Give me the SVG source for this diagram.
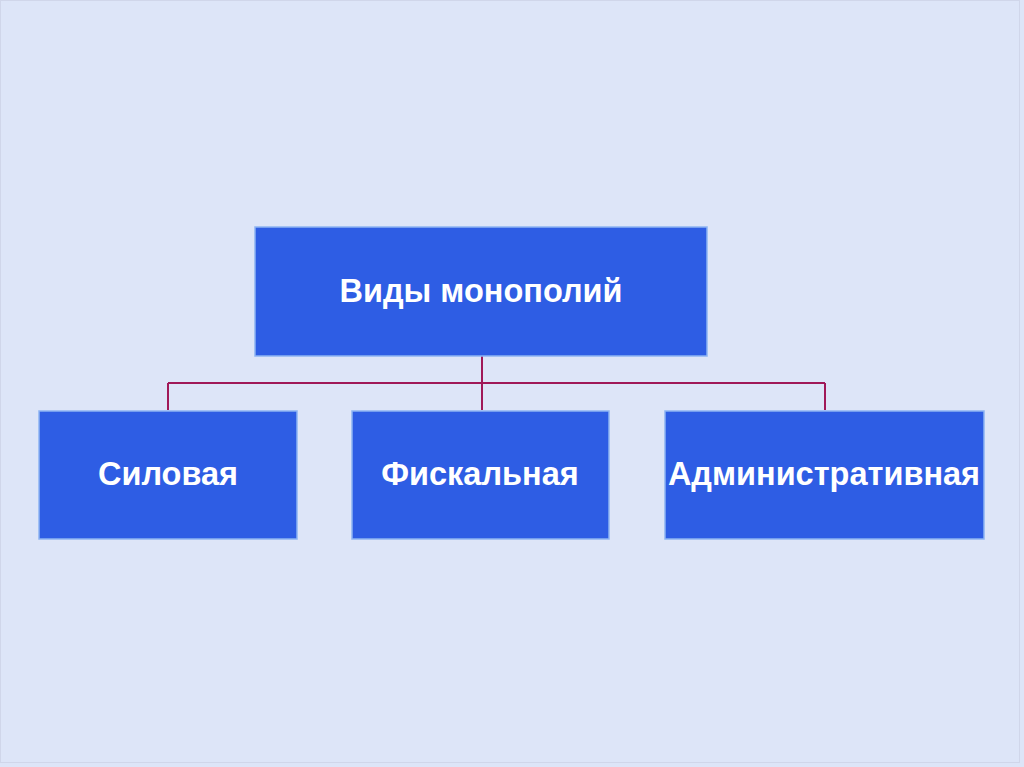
<svg xmlns="http://www.w3.org/2000/svg" width="1024" height="767" viewBox="0 0 1024 767">
<style>
.box{fill:#2e5de4;stroke:#8db4f2;stroke-width:1.5}
.lbl{font-family:"Liberation Sans",Arial,sans-serif;font-weight:bold;font-size:32.5px;fill:#ffffff;text-anchor:middle}
.conn{fill:none;stroke:#a01858;stroke-width:2}
</style>
<rect x="0" y="0" width="1024" height="767" fill="#dde5f8"/>
<rect x="0.5" y="0.5" width="1019" height="762" fill="none" stroke="#d0d6ea" stroke-width="1"/>
<g id="connectors">
<path class="conn" d="M482 356 V410 M168 383 H825 M168 383 V410 M825 383 V410"/>
</g>
<g id="root">
<rect class="box" x="255" y="227" width="452" height="129"/>
<text class="lbl" x="481" y="302">Виды монополий</text>
</g>
<g id="silovaya">
<rect class="box" x="39" y="411" width="258" height="128"/>
<text class="lbl" x="168" y="485">Силовая</text>
</g>
<g id="fiskalnaya">
<rect class="box" x="352" y="411" width="257" height="128"/>
<text class="lbl" x="480" y="485">Фискальная</text>
</g>
<g id="administrativnaya">
<rect class="box" x="665" y="411" width="319" height="128"/>
<text class="lbl" x="824" y="485">Административная</text>
</g>
</svg>
